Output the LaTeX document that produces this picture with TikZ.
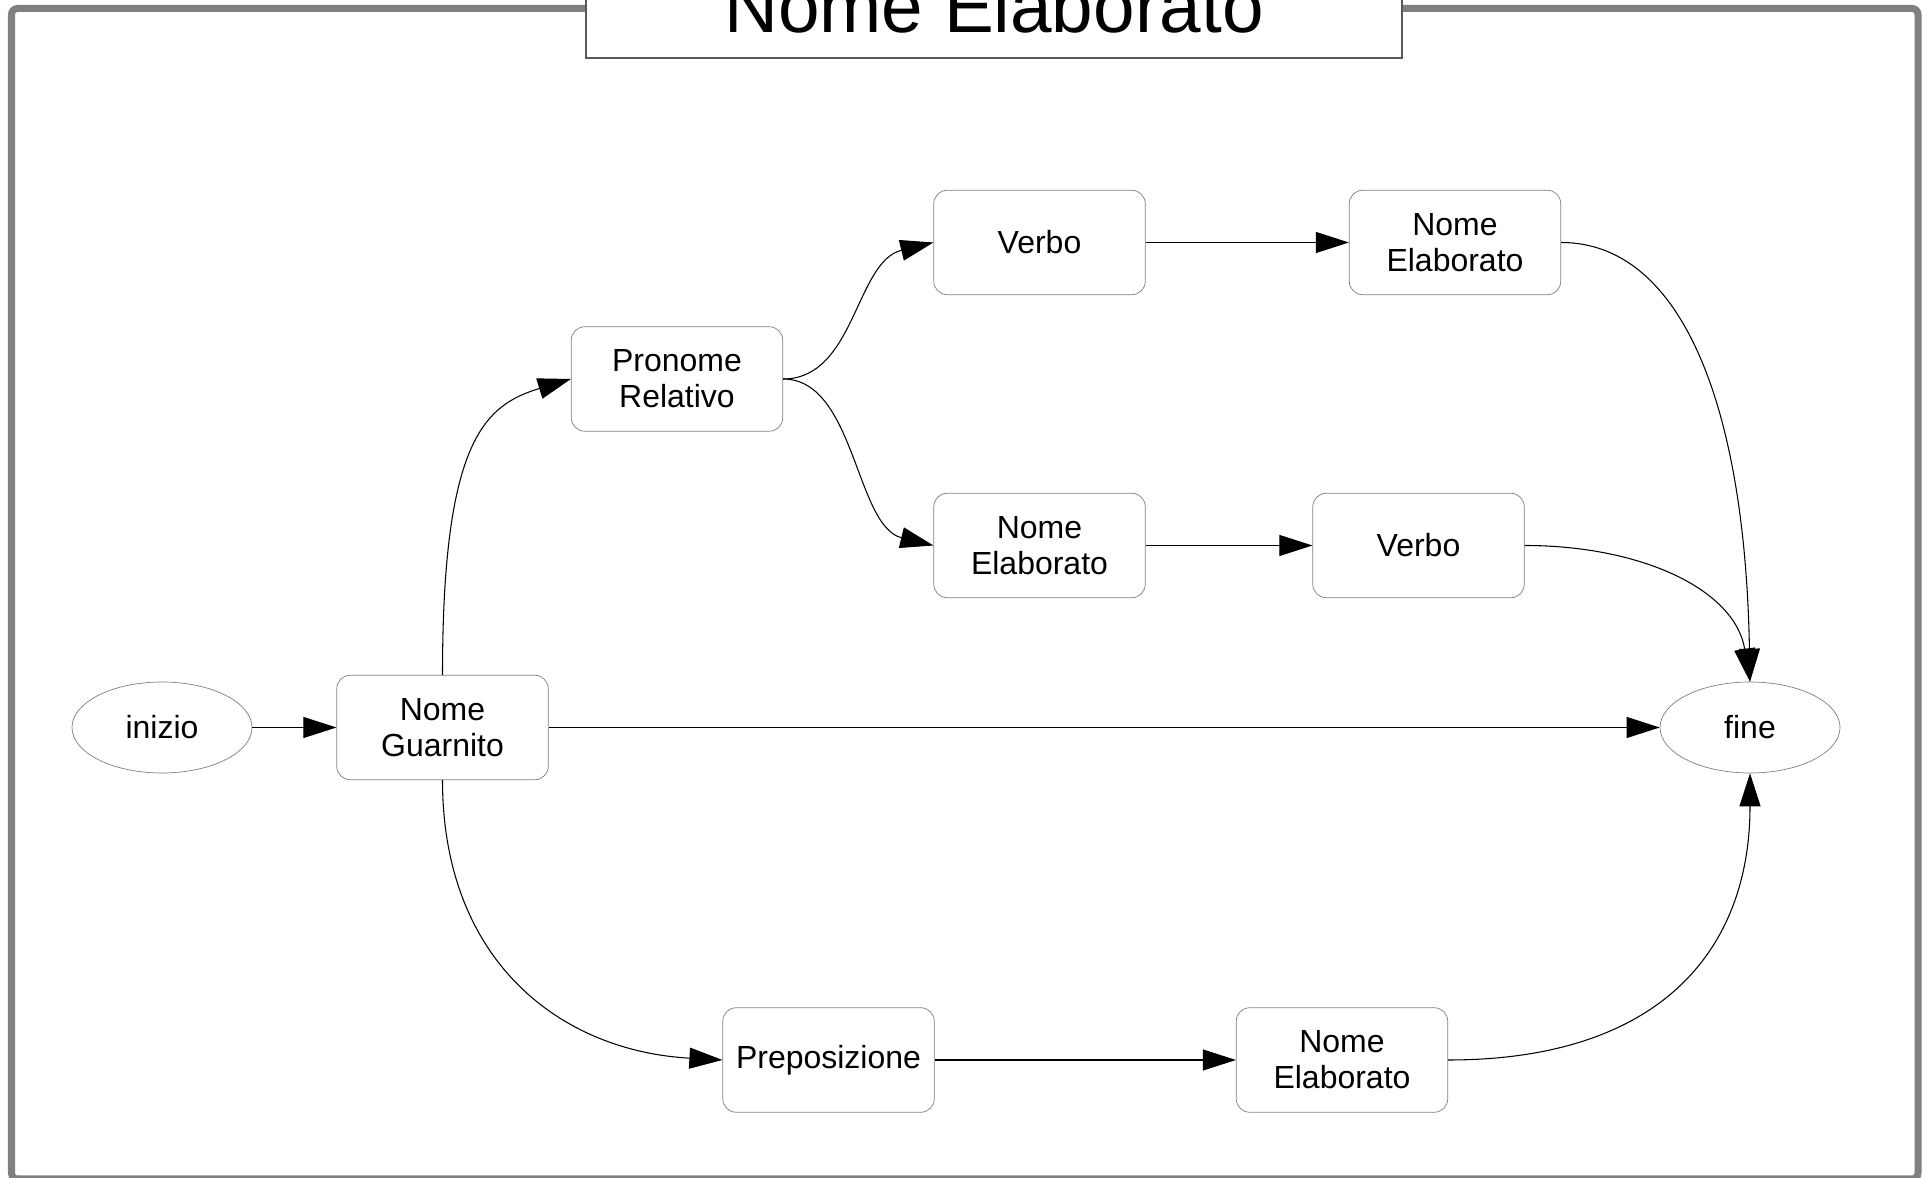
\documentclass[tikz,border=0pt]{standalone}
\usepackage{fontspec}
\setmainfont{Liberation Sans}
\usetikzlibrary{arrows.meta,shapes.geometric}

\def\nodefont{\fontsize{18.2}{20.5}\selectfont}
\def\titlefont{\fontsize{42.5}{46}\selectfont}
\def\sheet{(0,0) rectangle (38.54,23.56)}
\colorlet{box edge}{black!50}
\colorlet{frame edge}{black!50}
\tikzset{
  block/.style={draw=box edge, fill=white, rounded corners=0.27cm, minimum width=4.23cm, minimum height=2.09cm, align=center, font=\nodefont},
  terminal/.style={ellipse, draw=box edge, fill=white, minimum width=3.6cm, minimum height=1.82cm, font=\nodefont},
  frame/.style={draw=frame edge, line width=4pt, rounded corners=0.12cm},
  titlebox/.style={draw=black!65, fill=white, line width=0.8pt}
  }
\tikzstyle{edge} = [draw, line width=0.6pt, -{Triangle[length=6.6mm,width=4.2mm]}]

\begin{document}
\begin{tikzpicture}
   \useasboundingbox \sheet;
   \clip \sheet;
   \fill[white] \sheet;

   \draw[frame] (0.23,-0.02) rectangle (38.36,23.39);
   \draw[titlebox] (11.72,22.4) rectangle (28.04,24.5);
   \node[font=\titlefont, anchor=base] (titolo) at (19.88,22.91) {Nome Elaborato};

   \node[terminal] (inizio) at (3.24,9.01) {inizio};
   \node[block] (ng) at (8.85,9.01) {Nome\\Guarnito};
   \node[block] (pr) at (13.54,15.98) {Pronome\\Relativo};
   \node[block] (verbo1) at (20.79,18.71) {Verbo};
   \node[block] (ne1) at (29.1,18.71) {Nome\\Elaborato};
   \node[block] (ne2) at (20.79,12.65) {Nome\\Elaborato};
   \node[block] (verbo2) at (28.37,12.65) {Verbo};
   \node[block] (prep) at (16.57,2.36) {Preposizione};
   \node[block] (ne3) at (26.84,2.36) {Nome\\Elaborato};
   \node[terminal] (fine) at (35.0,9.01) {fine};

   \path[edge] (inizio) -- (ng);
   \path[edge] (ng) -- (fine);
   \path[edge] (ng.north) .. controls +(0,4.7) and +(-1.72,-0.52) .. (pr.west);
   \path[edge] (pr.east) .. controls +(1.44,0) and +(-1.56,-0.38) .. (verbo1.west);
   \path[edge] (pr.east) .. controls +(1.44,0) and +(-1.56,0.38) .. (ne2.west);
   \path[edge] (verbo1) -- (ne1);
   \path[edge] (ne2) -- (verbo2);
   \path[edge] (ne1.east) .. controls +(2.36,0) and +(-0.1,5.64) .. (fine.north);
   \path[edge] (verbo2.east) .. controls +(2.34,0) and +(-0.3,1.84) .. (fine.north);
   \path[edge] (ng.south) .. controls +(0,-3.62) and +(-3.24,0.18) .. (prep.west);
   \path[edge] (prep) -- (ne3);
   \path[edge] (ne3.east) .. controls +(4.24,0) and +(0,-3.54) .. (fine.south);
\end{tikzpicture}
\end{document}
